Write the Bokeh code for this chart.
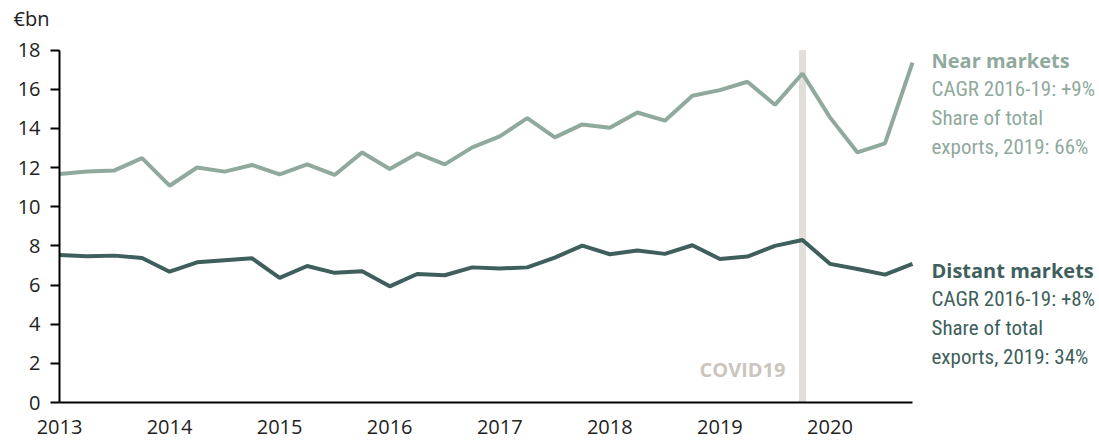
from bokeh.plotting import figure
from bokeh.models import Range1d, FixedTicker, Label, ColumnDataSource
from bokeh.embed import file_html
from bokeh.resources import INLINE

years = [2013, 2014, 2015, 2016, 2017, 2018, 2019, 2020]
quarters = [f"{y}Q{q}" for y in years for q in (1, 2, 3, 4)]
near = [11.67, 11.79, 11.85, 12.48, 11.07, 12.00, 11.79, 12.13,
        11.65, 12.16, 11.62, 12.77, 11.92, 12.72, 12.16, 13.03,
        13.59, 14.52, 13.54, 14.20, 14.03, 14.81, 14.39, 15.66,
        15.95, 16.38, 15.20, 16.80, 14.56, 12.77, 13.23, 17.36]
distant = [7.53, 7.47, 7.50, 7.38, 6.68, 7.16, 7.26, 7.36,
           6.36, 6.97, 6.62, 6.70, 5.93, 6.56, 6.50, 6.90,
           6.84, 6.90, 7.40, 8.01, 7.57, 7.76, 7.59, 8.03,
           7.33, 7.45, 8.00, 8.30, 7.08, 6.82, 6.53, 7.08]
y_ticks = [0, 2, 4, 6, 8, 10, 12, 14, 16, 18]
y_max = 18
covid_quarter = "2019Q4"
near_text = ["Near markets", "CAGR 2016-19: +9%", "Share of total", "exports, 2019: 66%"]
distant_text = ["Distant markets", "CAGR 2016-19: +8%", "Share of total", "exports, 2019: 34%"]


def qnum(s):
    return int(s[:4]) + (int(s[5]) - 1) / 4.0


x = [qnum(q) for q in quarters]
src = ColumnDataSource(dict(x=x, near=near, distant=distant))

NEAR_C = "#8fa99d"
DIST_C = "#3e5f5b"
COVID_C = "#e2ded9"
COVID_TXT = "#cbc5be"
TXT_C = "#222222"
FONT = "Open Sans"
NARROW = "Roboto Condensed"

# canvas geometry (pixels) -> ranges, so the whole canvas is the plot frame
W, H = 1099, 441
X0_PX, X1_PX = 59, 912      # pixel of first / last quarter
Y0_PX, YT_PX = 402, 49.5    # pixel of 0 and of y_max
kx = (X1_PX - X0_PX) / (x[-1] - x[0])
ky = (Y0_PX - YT_PX) / y_max
x_range = Range1d(x[0] - X0_PX / kx, x[0] + (W - X0_PX) / kx)
y_range = Range1d(-(H - Y0_PX) / ky, y_max + YT_PX / ky)

p = figure(width=W, height=H, output_backend="svg", toolbar_location=None,
           x_range=x_range, y_range=y_range, min_border=0)
p.outline_line_color = None
p.xgrid.visible = False
p.ygrid.visible = False
p.background_fill_color = "white"
p.border_fill_color = "white"

cx = qnum(covid_quarter)
p.segment(x0=[cx], y0=[0], x1=[cx], y1=[y_max], line_width=7, line_color=COVID_C,
          line_cap="butt")

p.line("x", "near", source=src, line_color=NEAR_C, line_width=4)
p.line("x", "distant", source=src, line_color=DIST_C, line_width=4)

p.xaxis.ticker = FixedTicker(ticks=years)
p.yaxis.ticker = FixedTicker(ticks=y_ticks)
p.xaxis.bounds = (x[0], x[-1])
p.yaxis.bounds = (0, y_max)
p.xaxis.fixed_location = 0
p.yaxis.fixed_location = x[0]
for ax in (p.xaxis[0], p.yaxis[0]):
    ax.axis_line_color = "black"
    ax.axis_line_width = 2
    ax.major_tick_line_color = "black"
    ax.major_tick_line_width = 2
    ax.minor_tick_line_color = None
    ax.major_label_text_font = FONT
    ax.major_label_text_font_size = "20px"
    ax.major_label_text_color = TXT_C
    ax.major_tick_in = 0
p.xaxis.major_tick_out = 0
p.xaxis.major_label_standoff = 17
p.yaxis.major_tick_out = 9
p.yaxis.major_label_standoff = 10

# unit label
p.add_layout(Label(x=x[0], y=y_max, x_offset=-46, y_offset=32, text="€bn",
                   text_font=FONT, text_font_size="20px", text_color=TXT_C,
                   text_baseline="middle", text_align="left"))

# covid label
p.add_layout(Label(x=cx, y=0, x_offset=-17, y_offset=33, text="COVID19",
                   text_font=FONT, text_font_size="20px", text_font_style="bold",
                   text_color=COVID_TXT, text_baseline="middle", text_align="right"))


def block(lines, color, y0):
    for i, t in enumerate(lines):
        if i == 0:
            p.add_layout(Label(x=x[-1], y=y0, x_offset=19, y_offset=0, text=t,
                               text_font=FONT, text_font_size="20px",
                               text_font_style="bold", text_color=color,
                               text_baseline="middle", text_align="left"))
        else:
            p.add_layout(Label(x=x[-1], y=y0, x_offset=19, y_offset=-28.6 * i, text=t,
                               text_font=NARROW, text_font_size="21px",
                               text_color=color, text_baseline="middle",
                               text_align="left"))


block(near_text, NEAR_C, 17.45)
block(distant_text, DIST_C, 6.73)

open("out.html", "w").write(file_html(p, INLINE))
